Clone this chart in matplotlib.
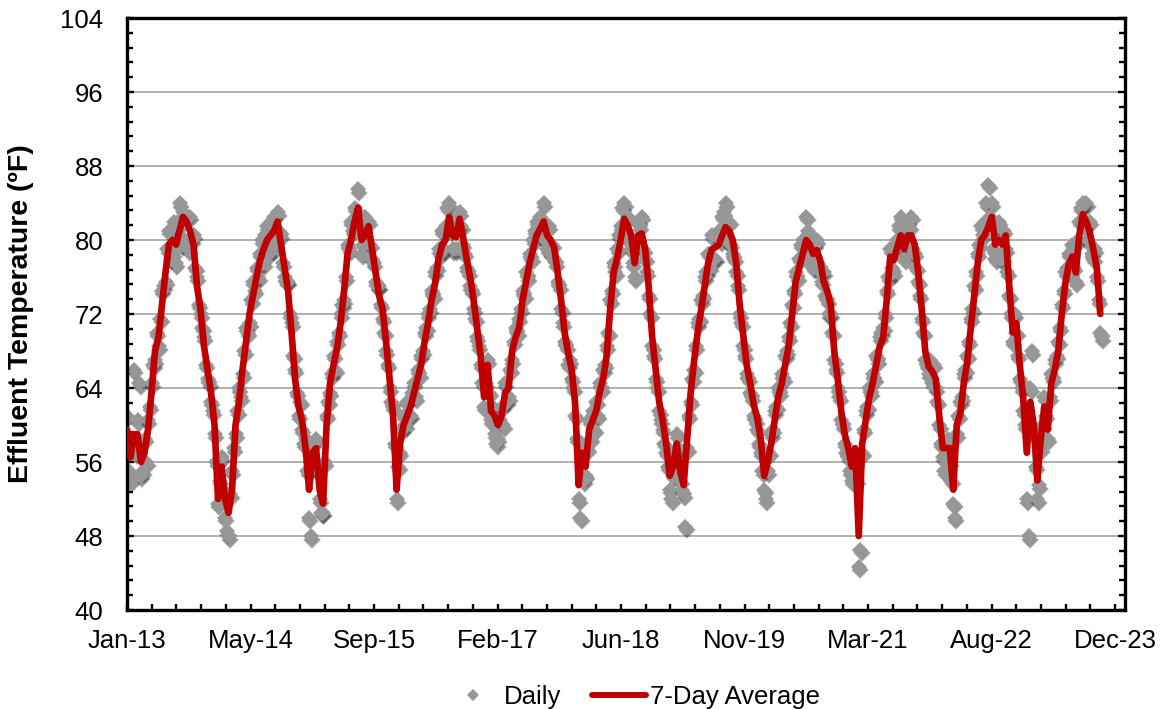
import numpy as np
import pandas as pd
import matplotlib
matplotlib.use("Agg")
import matplotlib.pyplot as plt
import matplotlib.dates as mdates
from matplotlib.ticker import FixedLocator
from matplotlib.lines import Line2D
from matplotlib.transforms import offset_copy

# ---------------------------------------------------------------------------
# Effluent temperature record (deg F)
# ---------------------------------------------------------------------------
start_date = "2013-01-01"
avg_end_date = "2023-10-16"
daily_end_date = "2023-10-23"

# 7-day average, sampled every ~two weeks
avg_temp = [
    59.5, 56.5, 59.0, 59.0, 56.0, 57.0, 59.5, 63.5, 68.0, 69.5, 73.0, 76.5, 79.5, 80.0, 79.5, 81.0, 82.5, 82.0, 81.0, 79.5, 75.0, 72.5, 68.5, 66.0, 63.5, 60.0,
    52.0, 55.5, 52.0, 50.5, 53.0, 60.0, 62.5, 66.0, 69.0, 72.0, 74.0, 76.0, 77.8, 79.0, 80.0, 80.5, 81.0, 82.0, 79.5, 77.0, 74.5, 70.0, 65.0, 62.0, 60.5, 57.5,
    53.0, 57.0, 57.5, 53.0, 51.5, 60.0, 64.5, 66.5, 68.3, 71.0, 74.5, 78.5, 80.0, 82.0, 83.5, 80.0, 80.5, 81.5, 79.0, 76.5, 74.0, 72.5, 69.0, 65.0, 61.0, 53.0,
    58.0, 60.0, 61.0, 62.0, 63.5, 65.0, 66.5, 69.0, 71.0, 73.5, 75.3, 78.0, 79.5, 80.0, 82.5, 80.5, 80.3, 82.3, 80.3, 78.0, 76.0, 73.5, 70.5, 67.5, 63.0, 66.5,
    61.5, 61.0, 60.0, 61.0, 63.5, 64.0, 68.0, 69.5, 70.5, 73.5, 75.5, 77.5, 79.0, 80.5, 81.2, 82.0, 80.5, 80.0, 79.2, 76.5, 73.5, 70.0, 67.8, 66.0, 62.3, 53.5,
    57.0, 55.5, 59.5, 60.5, 61.5, 63.5, 65.0, 67.5, 72.5, 76.5, 78.0, 80.0, 82.3, 81.6, 80.5, 77.5, 80.5, 80.7, 79.0, 75.0, 69.5, 66.0, 62.5, 60.5, 58.0, 54.5,
    55.5, 58.0, 55.0, 53.5, 58.5, 63.5, 67.0, 70.0, 72.5, 75.0, 77.5, 79.0, 79.2, 79.5, 80.5, 81.4, 81.0, 80.0, 77.5, 73.0, 69.8, 66.5, 64.5, 62.2, 60.8, 58.5,
    54.5, 56.0, 58.0, 60.5, 63.0, 64.5, 66.5, 68.5, 72.0, 75.5, 77.0, 78.5, 80.0, 79.5, 78.5, 78.9, 77.8, 75.5, 74.5, 73.0, 68.0, 65.0, 61.5, 59.0, 57.5, 55.5,
    57.5, 48.0, 58.0, 60.5, 63.0, 64.5, 66.5, 68.5, 69.5, 73.5, 78.2, 77.8, 79.2, 80.5, 79.0, 80.5, 80.5, 79.5, 76.5, 72.5, 68.0, 66.3, 65.8, 65.0, 61.0, 57.5,
    57.5, 57.5, 53.0, 60.0, 61.2, 64.5, 66.8, 70.5, 74.0, 77.5, 80.0, 80.5, 81.4, 82.5, 79.5, 80.0, 79.5, 80.5, 75.0, 70.0, 71.0, 66.5, 62.8, 57.0, 62.5, 60.0,
    54.0, 58.5, 62.0, 59.5, 64.5, 66.0, 68.0, 72.0, 75.3, 77.4, 78.2, 76.5, 80.5, 82.8, 82.0, 80.8, 79.0, 77.0, 72.0,
]

# daily readings, one per week
daily_temp = [
    61.0, 55.0, 54.0, 58.5, 66.0, 57.0, 60.5, 64.5, 54.5, 55.0, 58.5, 56.0, 60.5, 62.0, 64.5, 66.5, 67.0, 70.0, 68.5, 71.5, 74.5, 75.0, 75.5, 79.0, 81.0, 78.0,
    78.5, 82.0, 77.5, 81.5, 84.0, 79.5, 83.0, 80.0, 82.5, 79.0, 82.5, 80.0, 80.5, 77.0, 76.0, 73.0, 72.0, 70.5, 69.5, 66.5, 65.0, 64.5, 62.5, 61.5, 59.0, 56.0,
    51.5, 54.0, 56.5, 53.0, 50.0, 48.5, 48.0, 52.5, 55.0, 57.5, 59.0, 61.5, 64.0, 63.0, 65.5, 68.0, 70.5, 70.0, 71.0, 73.5, 75.5, 74.5, 77.0, 76.0, 78.5, 80.0,
    77.5, 80.5, 81.5, 78.5, 82.0, 79.0, 82.5, 80.0, 83.0, 81.0, 80.5, 77.5, 76.0, 75.5, 75.5, 72.0, 71.0, 67.5, 66.0, 63.5, 61.0, 62.5, 59.5, 58.0, 58.5, 55.0,
    50.0, 48.0, 58.0, 56.0, 58.5, 55.0, 52.0, 50.5, 50.5, 56.0, 61.0, 62.5, 63.5, 65.5, 67.5, 66.0, 69.0, 70.0, 72.0, 73.0, 73.5, 76.0, 79.5, 79.0, 82.0, 81.0,
    83.5, 82.5, 85.5, 81.5, 78.5, 79.5, 82.5, 80.0, 82.0, 79.5, 78.0, 77.5, 75.5, 75.0, 75.0, 73.0, 71.5, 70.0, 68.0, 66.5, 64.0, 62.5, 62.0, 58.0, 52.0, 55.5,
    57.0, 59.5, 61.0, 60.0, 62.5, 61.0, 61.0, 63.5, 64.5, 63.0, 66.0, 65.5, 67.5, 68.0, 70.0, 70.5, 72.0, 72.5, 74.5, 74.0, 76.5, 77.0, 79.0, 78.5, 81.0, 79.0,
    81.5, 83.5, 84.0, 81.0, 79.0, 82.0, 79.0, 81.5, 83.0, 81.5, 79.5, 78.5, 77.0, 76.5, 75.0, 74.5, 72.5, 71.5, 69.5, 68.5, 66.5, 64.5, 62.0, 64.5, 67.0, 63.5,
    60.5, 62.0, 59.0, 58.0, 58.5, 60.5, 62.0, 60.0, 64.5, 62.5, 63.0, 66.0, 67.0, 69.0, 70.5, 70.0, 71.5, 72.5, 74.5, 74.0, 76.5, 76.0, 78.5, 78.0, 80.0, 81.0,
    82.0, 81.0, 82.5, 80.5, 84.0, 80.0, 79.0, 81.5, 78.5, 79.5, 78.0, 77.5, 75.5, 75.0, 72.5, 71.0, 69.0, 68.5, 66.5, 67.0, 65.0, 64.0, 61.0, 58.5, 52.0, 50.0,
    58.0, 54.0, 54.5, 57.5, 60.5, 58.5, 61.5, 59.5, 62.5, 61.0, 64.5, 64.0, 66.0, 66.5, 68.5, 70.0, 73.5, 74.5, 77.5, 76.5, 79.0, 80.5, 81.5, 83.5, 84.0, 81.0,
    82.5, 80.0, 79.0, 77.5, 76.0, 79.5, 82.0, 81.5, 82.5, 79.0, 78.0, 76.5, 74.0, 72.0, 68.5, 67.5, 65.0, 64.0, 61.5, 60.5, 59.5, 58.0, 57.0, 55.5, 53.0, 52.0,
    54.5, 57.0, 59.0, 57.5, 54.0, 53.0, 52.5, 49.0, 57.5, 61.0, 62.5, 65.0, 66.0, 68.5, 71.0, 71.5, 73.5, 74.0, 76.0, 76.5, 78.5, 77.0, 80.5, 78.0, 78.0, 80.5,
    81.0, 80.0, 82.5, 83.0, 84.0, 80.0, 82.0, 79.5, 78.5, 78.0, 76.5, 75.0, 72.0, 71.0, 68.5, 67.5, 65.5, 65.0, 63.5, 63.0, 61.0, 60.5, 59.5, 58.0, 57.0, 55.0,
    53.0, 52.0, 55.0, 57.0, 59.0, 59.5, 61.5, 62.0, 64.0, 63.5, 65.5, 65.0, 67.5, 68.0, 69.5, 71.0, 73.0, 74.5, 76.5, 76.0, 78.0, 79.5, 80.0, 79.5, 82.5, 81.0,
    78.0, 77.5, 77.0, 79.5, 80.0, 77.5, 76.5, 75.5, 76.5, 74.0, 73.5, 72.0, 72.0, 70.0, 67.0, 66.0, 64.0, 63.0, 60.5, 60.0, 58.0, 57.0, 56.5, 55.0, 54.0, 56.5,
    56.0, 54.0, 44.7, 46.5, 57.0, 59.5, 61.5, 62.0, 64.0, 63.5, 65.5, 65.0, 67.5, 67.0, 69.5, 70.0, 70.5, 72.0, 74.5, 76.0, 79.0, 77.0, 76.5, 79.0, 80.0, 81.5,
    82.5, 79.5, 78.0, 80.5, 82.0, 81.5, 82.5, 79.0, 78.5, 77.0, 75.5, 74.0, 71.5, 70.0, 67.0, 66.5, 65.5, 67.0, 64.5, 66.5, 64.0, 62.5, 60.0, 58.0, 56.5, 55.0,
    56.5, 58.5, 56.0, 54.0, 51.5, 50.0, 59.0, 61.0, 62.5, 63.0, 65.5, 66.0, 67.5, 69.0, 71.5, 72.5, 75.0, 76.5, 78.5, 79.5, 81.5, 80.5, 82.0, 84.0, 86.0, 82.5,
    84.0, 79.0, 78.0, 81.5, 82.0, 78.0, 78.0, 81.0, 79.0, 76.5, 74.0, 72.0, 69.0, 72.0, 70.0, 67.5, 65.0, 64.0, 61.5, 60.0, 52.0, 48.0, 64.0, 68.0, 59.0, 55.5,
    52.0, 53.5, 57.5, 60.0, 63.0, 61.0, 58.5, 63.0, 65.5, 65.0, 67.0, 67.5, 69.0, 70.5, 73.0, 74.5, 76.5, 77.0, 78.5, 76.5, 79.5, 77.0, 75.5, 80.0, 82.0, 83.5,
    84.0, 81.5, 84.0, 80.0, 82.0, 78.5, 78.0, 79.0, 76.0, 73.5, 70.0, 69.5,
]

y_ticks = [40, 48, 56, 64, 72, 80, 88, 96, 104]
series_labels = ["Daily", "7-Day Average"]
y_label = "Effluent Temperature (\u00baF)"

# ---------------------------------------------------------------------------
plt.rcParams["font.family"] = ["Liberation Sans", "DejaVu Sans"]

avg_dates = pd.date_range(start_date, avg_end_date, periods=len(avg_temp))
daily_dates = pd.date_range(start_date, daily_end_date, periods=len(daily_temp))

W, H = 1163, 709
fig = plt.figure(figsize=(W / 100, H / 100), dpi=100)
ax = fig.add_axes([127 / W, 1 - 610 / H, (1125 - 127) / W, (610 - 18) / H])

x0 = mdates.date2num(pd.Timestamp(start_date))
ax.set_xlim(x0, x0 + 4040)
ax.set_ylim(y_ticks[0], y_ticks[-1])

ax.yaxis.set_major_locator(FixedLocator(y_ticks))
ax.yaxis.set_minor_locator(FixedLocator(np.arange(40, 104.01, 1.6)))
ax.xaxis.set_major_locator(FixedLocator(x0 + np.arange(0, 4001, 500)))
ax.xaxis.set_minor_locator(FixedLocator(x0 + np.arange(0, 4001, 100)))
ax.xaxis.set_major_formatter(mdates.DateFormatter("%b-%y"))

ax.grid(axis="y", which="major", color="#a3a3a3", lw=1.2)
ax.set_axisbelow(True)

gray = "#979797"
red = "#C00000"

# soft drop shadow under the daily markers
shadow_tr = offset_copy(ax.transData, fig=fig, x=1.0, y=-2.6, units="points")
ax.plot(daily_dates, daily_temp, ls="none", marker="D", ms=9.6,
        color="#2a2a2a", alpha=0.22, mew=0, transform=shadow_tr, zorder=1.8)
ax.plot(daily_dates, daily_temp, ls="none", marker="D", ms=8.4,
        color="#2a2a2a", alpha=0.35, mew=0, transform=shadow_tr, zorder=1.9)
ax.plot(daily_dates, daily_temp, ls="none", marker="D", ms=8.4,
        mfc=gray, mec=gray, mew=0, zorder=2)
ax.plot(avg_dates, avg_temp, color=red, lw=4.8,
        solid_joinstyle="round", solid_capstyle="round", zorder=3)

for s in ax.spines.values():
    s.set_linewidth(2.4)
    s.set_color("black")

ax.tick_params(axis="y", which="both", direction="in", left=True, right=True,
               width=1.7, labelsize=18.5, pad=17, colors="black")
ax.tick_params(axis="y", which="major", length=5)
ax.tick_params(axis="y", which="minor", length=4.5)
ax.tick_params(axis="x", which="both", direction="in", bottom=True, top=False,
               width=1.7, length=4.5, labelsize=18.5, pad=14)

ax.set_ylabel(y_label, fontsize=20.5, fontweight="bold")
ax.yaxis.set_label_coords(-0.093, 0.5)

handles = [
    Line2D([], [], ls="none", marker="D", ms=6.0, color=gray, mew=0),
    Line2D([], [], color=red, lw=4.3, solid_capstyle="round"),
]
fig.legend(handles, series_labels, loc="center", bbox_to_anchor=(633 / W, 1 - 697 / H),
           ncol=2, frameon=False, fontsize=18.5, handlelength=2.1,
           handletextpad=0.15, columnspacing=1.2)

fig.savefig("out.png", dpi=100)
